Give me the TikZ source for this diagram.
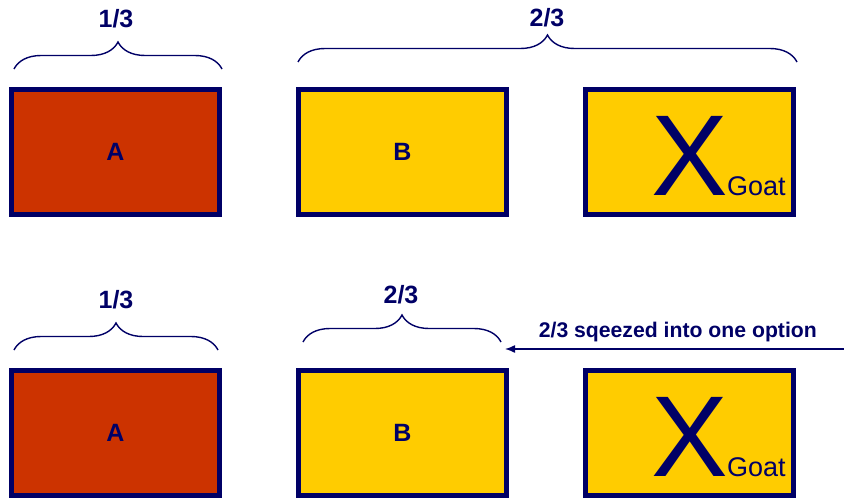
\documentclass[tikz,border=0pt]{standalone}
\usepackage{fontspec}
\setmainfont{Liberation Sans}
\usetikzlibrary{decorations.pathreplacing,arrows.meta}
\definecolor{navy}{RGB}{0,0,102}
\definecolor{redbox}{RGB}{204,51,0}
\definecolor{yellowbox}{RGB}{255,204,0}
\tikzset{
  box/.style={draw=navy, line width=5pt, minimum width=208pt, minimum height=125pt, inner sep=0pt,
    text=navy, font=\fontsize{25}{27}\selectfont\bfseries},
  redb/.style={box, fill=redbox},
  yelb/.style={box, fill=yellowbox},
  bigx/.style={text=navy, inner sep=0pt, font=\fontsize{115}{115}\selectfont},
  goat/.style={text=navy, inner sep=0pt, font=\fontsize{27}{28}\selectfont},
  curly/.style={draw=navy, line width=1.4pt, decorate, decoration={brace, amplitude=27pt}},
  frac/.style={text=navy, inner sep=0pt, font=\fontsize{25}{27}\selectfont\bfseries},
  note/.style={text=navy, inner sep=0pt, font=\fontsize{21.2}{23}\selectfont\bfseries},
  arr/.style={draw=navy, line width=1.4pt, -{Latex[length=10pt,width=8pt]}}
}
\begin{document}
\begin{tikzpicture}[x=1pt,y=-1pt]
\useasboundingbox (0,0) rectangle (844,498);
% top row
\node[redb] (a1) at (115.5,152) {A};
\node[yelb] (b1) at (402.5,152) {B};
\node[yelb] (x1) at (689.5,152) {};
\node[bigx, anchor=base] (xx1) at (690,195) {X};
\node[goat, anchor=base west] (g1) at (727,195) {Goat};
% top braces
\coordinate (t1l) at (14,69);
\coordinate (t1r) at (222,69);
\draw[curly] (t1l) -- (t1r);
\node[frac] (f1) at (116,19) {1/3};
\coordinate (t2l) at (298,62);
\coordinate (t2r) at (797,62);
\draw[curly] (t2l) -- (t2r);
\node[frac] (f2) at (547,18) {2/3};
% bottom row
\node[redb] (a2) at (115.5,433) {A};
\node[yelb] (b2) at (402.5,433) {B};
\node[yelb] (x2) at (689.5,433) {};
\node[bigx, anchor=base] (xx2) at (690,476) {X};
\node[goat, anchor=base west] (g2) at (727,476) {Goat};
% bottom braces
\coordinate (b1l) at (14,350);
\coordinate (b1r) at (218,350);
\draw[curly] (b1l) -- (b1r);
\node[frac] (f3) at (116,300) {1/3};
\coordinate (b2l) at (303,342);
\coordinate (b2r) at (501,342);
\draw[curly] (b2l) -- (b2r);
\node[frac] (f4) at (401,295) {2/3};
% arrow
\coordinate (atail) at (844,349);
\coordinate (ahead) at (505,349);
\draw[arr] (atail) -- (ahead);
\node[note, anchor=base east] (sq) at (817,337) {2/3 sqeezed into one option};
\end{tikzpicture}
\end{document}
